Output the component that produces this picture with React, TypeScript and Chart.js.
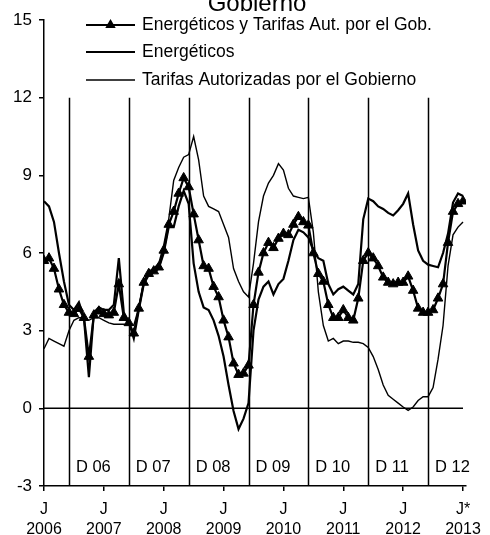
import React, { useEffect, useRef } from 'react';
import { Chart, registerables } from 'chart.js';

Chart.register(...registerables);

// Monthly observations, July 2006 (index 0) to July 2013 (index 84)
const monthNames = ['Jul', 'Ago', 'Sep', 'Oct', 'Nov', 'Dic', 'Ene', 'Feb', 'Mar', 'Abr', 'May', 'Jun'];
const months: string[] = [];
for (let i = 0; i <= 84; i++) {
  months.push(monthNames[i % 12] + ' ' + (2006 + Math.floor((i + 6) / 12)));
}

const combinado = [
  5.7, 5.8, 5.4, 4.6, 4.0, 3.7, 3.65, 3.85, 3.5, 2.0, 3.6, 3.75,
  3.65, 3.6, 3.7, 4.8, 3.5, 3.3, 2.9, 3.86, 4.86, 5.2, 5.3, 5.45,
  6.1, 7.1, 7.6, 8.3, 8.9, 8.55, 7.5, 6.5, 5.5, 5.4, 4.7, 4.3,
  3.4, 2.75, 1.74, 1.3, 1.35, 1.66, 4.0, 5.25, 6.0, 6.4, 6.2, 6.56,
  6.75, 6.7, 7.1, 7.4, 7.2, 7.07, 6.0, 5.2, 4.9, 4.0, 3.5, 3.5,
  3.8, 3.5, 3.4, 4.25, 5.7, 6.0, 5.8, 5.5, 5.06, 4.86, 4.8, 4.86,
  4.86, 5.1, 4.55, 3.86, 3.7, 3.7, 3.8, 4.25, 4.8, 6.4, 7.6, 7.9,
  8.0,
];

const energeticos = [
  8.0, 7.8, 7.2, 6.0, 4.9, 4.0, 3.8, 4.1, 3.5, 1.2, 3.7, 3.9,
  3.8, 3.8, 4.0, 5.8, 3.7, 3.35, 2.7, 3.8, 4.8, 5.15, 5.25, 5.4,
  6.0, 7.0, 7.0, 7.8, 8.4, 7.9, 5.6, 4.5, 3.9, 3.8, 3.4, 2.8,
  2.0, 0.9, -0.1, -0.8, -0.4, 0.2, 3.0, 4.2, 4.7, 4.9, 4.4, 4.8,
  5.0, 5.7, 6.5, 6.9, 6.8, 6.6, 6.1, 5.8, 5.7, 4.8, 4.4, 4.6,
  4.7, 4.55, 4.4, 4.8, 7.3, 8.1, 8.0, 7.8, 7.7, 7.55, 7.45, 7.65,
  7.9, 8.3, 7.1, 6.1, 5.7, 5.55, 5.5, 5.45, 6.0, 6.75, 7.95, 8.3,
  8.2,
];

const tarifas = [
  2.3, 2.7, 2.6, 2.5, 2.4, 3.0, 3.4, 3.5, 3.5, 3.4, 3.5, 3.5,
  3.4, 3.3, 3.25, 3.25, 3.25, 3.25, 3.2, 3.9, 4.9, 5.3, 5.4, 5.6,
  6.3, 7.3, 8.8, 9.3, 9.7, 9.8, 10.5, 9.6, 8.2, 7.8, 7.7, 7.6,
  7.1, 6.6, 5.4, 4.9, 4.5, 4.3, 5.6, 7.2, 8.2, 8.7, 9.0, 9.45,
  9.2, 8.5, 8.2, 8.15, 8.1, 8.15, 6.8, 4.5, 3.2, 2.6, 2.7, 2.5,
  2.6, 2.6, 2.55, 2.55, 2.5, 2.35, 2.0, 1.5, 0.9, 0.5, 0.35, 0.2,
  0.05, -0.08, 0.05, 0.3, 0.45, 0.45, 0.8, 1.9, 3.2, 5.5, 6.7, 7.0,
  7.2,
];

const seriesNames = [
  'Energéticos y Tarifas Aut. por el Gob.',
  'Energéticos',
  'Tarifas Autorizadas por el Gobierno',
];

const titleText = 'Gobierno';

const xTickMonths = [0, 12, 24, 36, 48, 60, 72, 84];
const xTickLabels = [
  ['J', '2006'], ['J', '2007'], ['J', '2008'], ['J', '2009'],
  ['J', '2010'], ['J', '2011'], ['J', '2012'], ['J*', '2013'],
];

const decMonths = [5, 17, 29, 41, 53, 65, 77];
const decLabels = ['D 06', 'D 07', 'D 08', 'D 09', 'D 10', 'D 11', 'D 12'];

const yMin = -3;
const yMax = 15;
const yStep = 3;
const decLineTop = 12;

const FONT = "'Liberation Sans', Arial, sans-serif";

const overlayPlugin = {
  id: 'overlay',
  beforeDatasetsDraw(chart: any) {
    const { ctx, scales } = chart;
    const x = scales.x;
    const y = scales.y;
    ctx.save();
    ctx.strokeStyle = '#000';
    ctx.lineWidth = 1.5;
    // zero line
    ctx.beginPath();
    ctx.moveTo(x.getPixelForValue(0), y.getPixelForValue(0));
    ctx.lineTo(x.getPixelForValue(84), y.getPixelForValue(0));
    ctx.stroke();
    // December lines
    decMonths.forEach((m) => {
      const px = Math.round(x.getPixelForValue(m)) + 0.5;
      ctx.beginPath();
      ctx.moveTo(px, y.getPixelForValue(decLineTop));
      ctx.lineTo(px, y.getPixelForValue(yMin));
      ctx.stroke();
    });
    ctx.restore();
  },
  afterDatasetsDraw(chart: any) {
    const { ctx, scales } = chart;
    const x = scales.x;
    const y = scales.y;
    ctx.save();
    ctx.fillStyle = '#000';
    ctx.strokeStyle = '#000';
    // December labels
    ctx.font = `16.5px ${FONT}`;
    ctx.textAlign = 'left';
    ctx.textBaseline = 'alphabetic';
    decMonths.forEach((m, i) => {
      ctx.fillText(decLabels[i], x.getPixelForValue(m) + 7, y.getPixelForValue(yMin) - 14);
    });

    // Title (partly cut off by the top edge)
    ctx.font = `24px ${FONT}`;
    ctx.textAlign = 'center';
    ctx.fillText(titleText, 257, 11);

    // Legend
    const lx0 = 86;
    const lx1 = 135;
    const tx = 142;
    const rows = [25, 52, 80];
    const widths = [2.2, 2.2, 1.4];
    ctx.font = `17.5px ${FONT}`;
    ctx.textAlign = 'left';
    rows.forEach((ry, i) => {
      ctx.lineWidth = widths[i];
      ctx.beginPath();
      ctx.moveTo(lx0, ry);
      ctx.lineTo(lx1, ry);
      ctx.stroke();
      if (i === 0) {
        const cx = (lx0 + lx1) / 2;
        const r = 6;
        ctx.beginPath();
        ctx.moveTo(cx, ry - r);
        ctx.lineTo(cx + r * 0.87, ry + r * 0.5);
        ctx.lineTo(cx - r * 0.87, ry + r * 0.5);
        ctx.closePath();
        ctx.fill();
      }
      ctx.fillText(seriesNames[i], tx, ry + 5);
    });
    ctx.restore();
  },
};

export default function App() {
  const canvasRef = useRef<HTMLCanvasElement | null>(null);

  useEffect(() => {
    if (!canvasRef.current) return;
    const toPoints = (arr: number[]) => arr.map((v, i) => ({ x: i, y: v }));
    const chart = new Chart(canvasRef.current, {
      type: 'line',
      data: {
        labels: months,
        datasets: [
          {
            label: seriesNames[2],
            data: toPoints(tarifas),
            borderColor: '#000',
            borderWidth: 1.4,
            pointRadius: 0,
            tension: 0,
            fill: false,
          },
          {
            label: seriesNames[1],
            data: toPoints(energeticos),
            borderColor: '#000',
            borderWidth: 2.2,
            pointRadius: 0,
            tension: 0,
            fill: false,
          },
          {
            label: seriesNames[0],
            data: toPoints(combinado),
            borderColor: '#000',
            backgroundColor: '#000',
            borderWidth: 2.2,
            pointStyle: 'triangle',
            pointRadius: 5.5,
            pointBorderWidth: 1,
            pointBackgroundColor: '#000',
            pointBorderColor: '#000',
            tension: 0,
            fill: false,
          },
        ],
      },
      options: {
        responsive: false,
        animation: false,
        layout: { padding: { top: 20, right: 24, left: 0, bottom: 0 } },
        plugins: {
          legend: { display: false },
          tooltip: { enabled: false },
          title: { display: false },
        },
        scales: {
          x: {
            type: 'linear',
            min: 0,
            max: 84.6,
            afterBuildTicks: (scale: any) => {
              scale.ticks = xTickMonths.map((v) => ({ value: v }));
            },
            afterFit: (scale: any) => {
              scale.height = 49;
            },
            ticks: {
              autoSkip: false,
              maxRotation: 0,
              minRotation: 0,
              padding: 9,
              color: '#000',
              font: { family: FONT, size: 16, lineHeight: 1.25 },
              callback: (_v: any, i: number) => xTickLabels[i],
            },
            grid: {
              drawOnChartArea: false,
              drawTicks: true,
              tickLength: 5,
              color: '#000',
              lineWidth: 1.5,
            },
            border: { display: true, color: '#000', width: 1.5 },
          },
          y: {
            type: 'linear',
            min: yMin,
            max: yMax,
            afterFit: (scale: any) => {
              scale.width = 44;
            },
            ticks: {
              stepSize: yStep,
              padding: 7,
              color: '#000',
              font: { family: FONT, size: 17 },
            },
            grid: {
              drawOnChartArea: false,
              drawTicks: true,
              tickLength: 5,
              color: '#000',
              lineWidth: 1.5,
            },
            border: { display: true, color: '#000', width: 1.5 },
          },
        },
      },
      plugins: [overlayPlugin],
    });
    return () => chart.destroy();
  }, []);

  return (
    <div style={{ position: 'absolute', left: 0, top: 0, width: 490, height: 535, background: '#fff' }}>
      <canvas ref={canvasRef} width={490} height={535} style={{ display: 'block' }} />
    </div>
  );
}
